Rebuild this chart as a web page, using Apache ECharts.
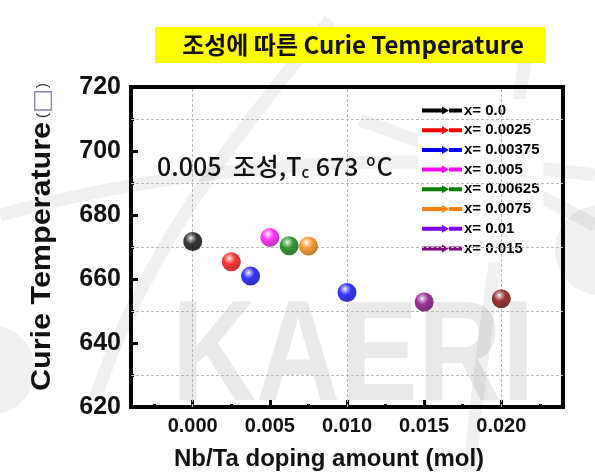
<!DOCTYPE html>
<html><head><meta charset="utf-8">
<script src="https://cdn.jsdelivr.net/npm/echarts@6/dist/echarts.min.js"></script>
<style>html,body{margin:0;padding:0;background:#fff}#c{width:595px;height:476px}</style>
</head><body><div id="c"></div>
<script>
// ---- data ----
const dopingX = [0.0, 0.0025, 0.00375, 0.005, 0.00625, 0.0075, 0.01, 0.015, 0.02];
const curieT  = [671.7, 665.4, 660.9, 673.0, 670.4, 670.3, 655.8, 652.8, 653.8];
const pointColors = ['#000000','#ff0000','#0000ff','#ff00ff','#008000','#ff8000','#0000ff','#800080','#800000'];
const legendNames = ['x= 0.0','x= 0.0025','x= 0.00375','x= 0.005','x= 0.00625','x= 0.0075','x= 0.01','x= 0.015'];
const legendColors = ['#000000','#ff0000','#0000ff','#ff00ff','#008000','#ff8000','#8000ff','#800080'];
const xMajorTicks = [0, 0.005, 0.01, 0.015, 0.02];
const xMinorTicks = [-0.0025, 0.0025, 0.0075, 0.0125, 0.0175, 0.0225];
const yGridValues = [630, 650, 670, 690, 710];
const titleText = '조성에 따른 Curie Temperature';
const yAxisTitle = 'Curie Temperature';

function shade(hex, f){
  const n=parseInt(hex.slice(1),16);let r=n>>16,g=(n>>8)&255,b=n&255;
  if(f>0){r=r+(255-r)*f;g=g+(255-g)*f;b=b+(255-b)*f;}else{r=r*(1+f);g=g*(1+f);b=b*(1+f);}
  return 'rgb('+Math.round(r)+','+Math.round(g)+','+Math.round(b)+')';
}
function ball(c){
  return {type:'radial',x:0.4,y:0.32,r:0.7,colorStops:[
    {offset:0,color:'#ffffff'},{offset:0.14,color:shade(c,0.6)},{offset:0.45,color:c},{offset:1,color:shade(c,-0.35)}]};
}

const chart = echarts.init(document.getElementById('c'));
const font = '"Liberation Sans", Arial, sans-serif';
const legendIcon = 'path://M0,2 L20,2 L20,0 L27,4 L20,8 L20,6 L0,6 Z M27,2 L40,2 L40,6 L27,6 Z';
const bandStyle = {fill:'none',stroke:'rgba(0,0,0,0.06)',lineWidth:13};

const series = [{
  type:'scatter', name:'points', xAxisIndex:0, yAxisIndex:0, z:5,
  symbolSize:19,
  data: dopingX.map((x,i)=>({value:[x,curieT[i]], itemStyle:{color:ball(pointColors[i])}})),
  markLine:{silent:true,symbol:'none',label:{show:false},
    lineStyle:{type:[3,2],color:'#b8b8b8',width:1},
    data:[...xMinorTicks.map(v=>({xAxis:v})), ...yGridValues.map(v=>({yAxis:v}))]}
}];
legendNames.forEach((n,i)=>series.push({type:'line',name:n,data:[],itemStyle:{color:legendColors[i]},lineStyle:{color:legendColors[i]}}));

chart.setOption({
  animation:false,
  backgroundColor:'#fff',
  grid:{left:131,right:32,top:87,bottom:69,show:true,borderColor:'#000',borderWidth:4,backgroundColor:'transparent'},
  graphic:[
    {type:'circle',z:-11,shape:{cx:-10,cy:370,r:45},style:{fill:'rgba(0,0,0,0.06)'}},
    {type:'circle',z:-11,shape:{cx:600,cy:250,r:45},style:{fill:'rgba(0,0,0,0.06)'}},
    {type:'bezierCurve',z:-11,shape:{x1:330,y1:20,x2:95,y2:400,cpx1:230,cpy1:140,cpx2:140,cpy2:260},style:bandStyle},
    {type:'bezierCurve',z:-11,shape:{x1:0,y1:215,x2:595,y2:175,cpx1:200,cpy1:160,cpx2:420,cpy2:150},style:bandStyle},
    {type:'bezierCurve',z:-11,shape:{x1:360,y1:120,x2:595,y2:225,cpx1:450,cpy1:150,cpx2:530,cpy2:190},style:bandStyle},
    {type:'bezierCurve',z:-11,shape:{x1:525,y1:60,x2:470,y2:470,cpx1:505,cpy1:200,cpx2:480,cpy2:350},style:bandStyle},
    {type:'text',left:172,top:290,z:-10,style:{text:'KAERI',font:'bold 142px '+font,fill:'rgba(0,0,0,0.085)'},scaleX:0.82},
    {type:'rect',shape:{x:155,y:27,width:390,height:36},style:{fill:'#ffff00'},z:1},
    {type:'text',x:353,y:45,z:2,style:{text:titleText,align:'center',verticalAlign:'middle',font:'bold 24px "Noto Sans CJK KR"',fill:'#111'}},
    {type:'text',x:157,y:166,z:6,style:{
      text:'{a|0.005  조성,T}{s|c}{a| 673 }{u|o}{a|C}',verticalAlign:'middle',
      rich:{a:{font:'500 25px "Noto Sans CJK KR"',fill:'#111'},
            s:{font:'500 15px "Noto Sans CJK KR"',fill:'#111',padding:[13,1,0,0]},
            u:{font:'500 15px "Noto Sans CJK KR"',fill:'#111',padding:[0,1,11,2]}}}},
    {type:'text',x:43,y:237,rotation:Math.PI/2,scaleX:1.13,z:6,style:{
      text:'{t|'+yAxisTitle+'} {p|(}{b|□}{p|)}',align:'center',verticalAlign:'middle',
      rich:{t:{font:'bold 27px '+font,fill:'#111'},
            p:{font:'14px '+font,fill:'#333'},
            b:{font:'23px "DejaVu Sans"',fill:'#8a7fb0'}}}}
  ],
  legend:{data:legendNames,orient:'vertical',left:418,top:99,padding:[4,4,6,4],itemGap:4.7,
    backgroundColor:'#fff',itemWidth:40,itemHeight:8,itemStyle:{borderWidth:0},icon:legendIcon,
    textStyle:{fontFamily:font,fontWeight:'bold',fontSize:15,color:'#000',padding:[0,0,0,-3]}},
  xAxis:[{
    type:'value',min:-0.004,max:0.024,
    name:'Nb/Ta doping amount (mol)',nameLocation:'middle',nameGap:40,
    nameTextStyle:{fontFamily:font,fontWeight:'bold',fontSize:24,color:'#111',padding:[0,36,0,0]},
    axisLine:{lineStyle:{color:'#000',width:4}},
    axisTick:{inside:true,length:7,lineStyle:{width:3,color:'#000'},customValues:xMajorTicks},
    axisLabel:{customValues:xMajorTicks,margin:9,fontFamily:font,fontWeight:'bold',fontSize:20,color:'#111',
      formatter:v=>v.toFixed(3)},
    splitLine:{show:false}
  },{
    type:'value',min:-0.004,max:0.024,position:'bottom',
    axisLine:{show:false},axisLabel:{show:false},splitLine:{show:false},
    axisTick:{inside:true,length:3,lineStyle:{width:3,color:'#000'},customValues:xMinorTicks}
  }],
  yAxis:{
    type:'value',min:620,max:720,interval:20,
    axisLine:{onZero:false,lineStyle:{color:'#000',width:4}},
    axisTick:{inside:true,length:7,lineStyle:{width:3,color:'#000'}},
    minorTick:{show:true,splitNumber:2,length:3,lineStyle:{width:3,color:'#000'}},
    axisLabel:{margin:10,fontFamily:font,fontWeight:'bold',fontSize:25,color:'#111'},
    splitLine:{show:false}
  },
  series:series
});
</script></body></html>
